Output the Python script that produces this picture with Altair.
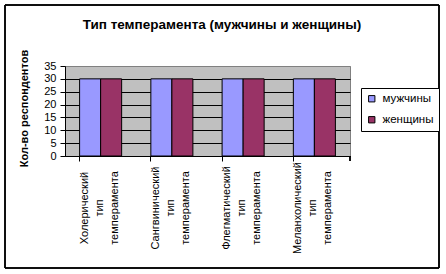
import altair as alt
import pandas as pd

chart_title = "Тип темперамента (мужчины и женщины)"
categories = [
    "Холерический\nтип\nтемперамента",
    "Сангвинический\nтип\nтемперамента",
    "Флегматический\nтип\nтемперамента",
    "Меланхолический\nтип\nтемперамента",
]
series = ["мужчины", "женщины"]
men = [30, 30, 30, 30]
women = [30, 30, 30, 30]
y_ticks = [0, 5, 10, 15, 20, 25, 30, 35]

rows = []
for i, c in enumerate(categories):
    rows.append({"cat": c, "series": series[0], "value": men[i]})
    rows.append({"cat": c, "series": series[1], "value": women[i]})
df = pd.DataFrame(rows)
lab_df = pd.DataFrame({"cat": categories})
title_df = pd.DataFrame({"t": [chart_title]})

FONT = "Liberation Sans"
W, H = 285, 90

xscale = alt.Scale(domain=categories, paddingInner=0.41, paddingOuter=0.205)

bars = alt.Chart(df).mark_bar(stroke="black", strokeWidth=1).encode(
    x=alt.X("cat:N", sort=categories, scale=xscale,
            axis=alt.Axis(title=None, labels=False, bandPosition=0, tickSize=5,
                          tickColor="black", domainColor="black", grid=False)),
    xOffset=alt.XOffset("series:N", sort=series, scale=alt.Scale(domain=series, padding=0)),
    y=alt.Y("value:Q", scale=alt.Scale(domain=[0, 35]),
            axis=alt.Axis(title="Кол-во респондентов", values=y_ticks, tickSize=5,
                          tickColor="black", domainColor="black",
                          gridColor={"condition": {"test": "datum.value === 35", "value": "#808080"}, "value": "black"},
                          labelFont=FONT, labelFontSize=11, labelColor="black", labelPadding=4,
                          titleFont=FONT, titleFontSize=11, titleFontWeight="bold", titleColor="black",
                          titleAngle=270, titleX=-41, titleY=42, titleAlign="center", titleBaseline="middle")),
    color=alt.Color("series:N", sort=series,
                    scale=alt.Scale(domain=series, range=["#9999FF", "#993366"]),
                    legend=alt.Legend(title=None, orient="none", legendX=296, legendY=22,
                                      strokeColor="black", fillColor="white", padding=5,
                                      symbolType="square", symbolSize=40, symbolStrokeColor="black",
                                      symbolStrokeWidth=1, labelFont=FONT, labelFontSize=11.5,
                                      labelColor="black", labelOffset=5, rowPadding=8)),
)

labels = alt.Chart(lab_df).mark_text(
    angle=270, align="center", baseline="middle", lineBreak="\n", lineHeight=15,
    dy=-16, font=FONT, fontSize=11, color="black",
).encode(
    x=alt.X("cat:N", sort=categories, scale=xscale),
    y=alt.value(H + 52),
    text="cat:N",
)

title_text = alt.Chart(title_df).mark_text(
    align="center", baseline="middle", font=FONT, fontSize=13.5, fontWeight="bold", color="black",
).encode(
    x=alt.value(157), y=alt.value(-41), text="t:N"
)

end_tick = alt.Chart(lab_df).mark_rule(color="black").encode(
    x=alt.value(W), y=alt.value(H), y2=alt.value(H + 5)
)

frame = alt.Chart(lab_df).mark_rect(filled=False, stroke="black", strokeWidth=1).encode(
    x=alt.value(-60), y=alt.value(-61), x2=alt.value(374), y2=alt.value(202)
)

chart = alt.layer(bars, labels, title_text, end_tick, frame).properties(
    width=W, height=H,
    autosize=alt.AutoSizeParams(type="none"),
    padding={"left": 65, "top": 66, "right": 96, "bottom": 118},
    background="white",
).configure_view(
    fill="#C0C0C0", stroke="#808080", strokeWidth=1
)

chart.save("out.html", embed_options={"renderer": "svg", "actions": False})
